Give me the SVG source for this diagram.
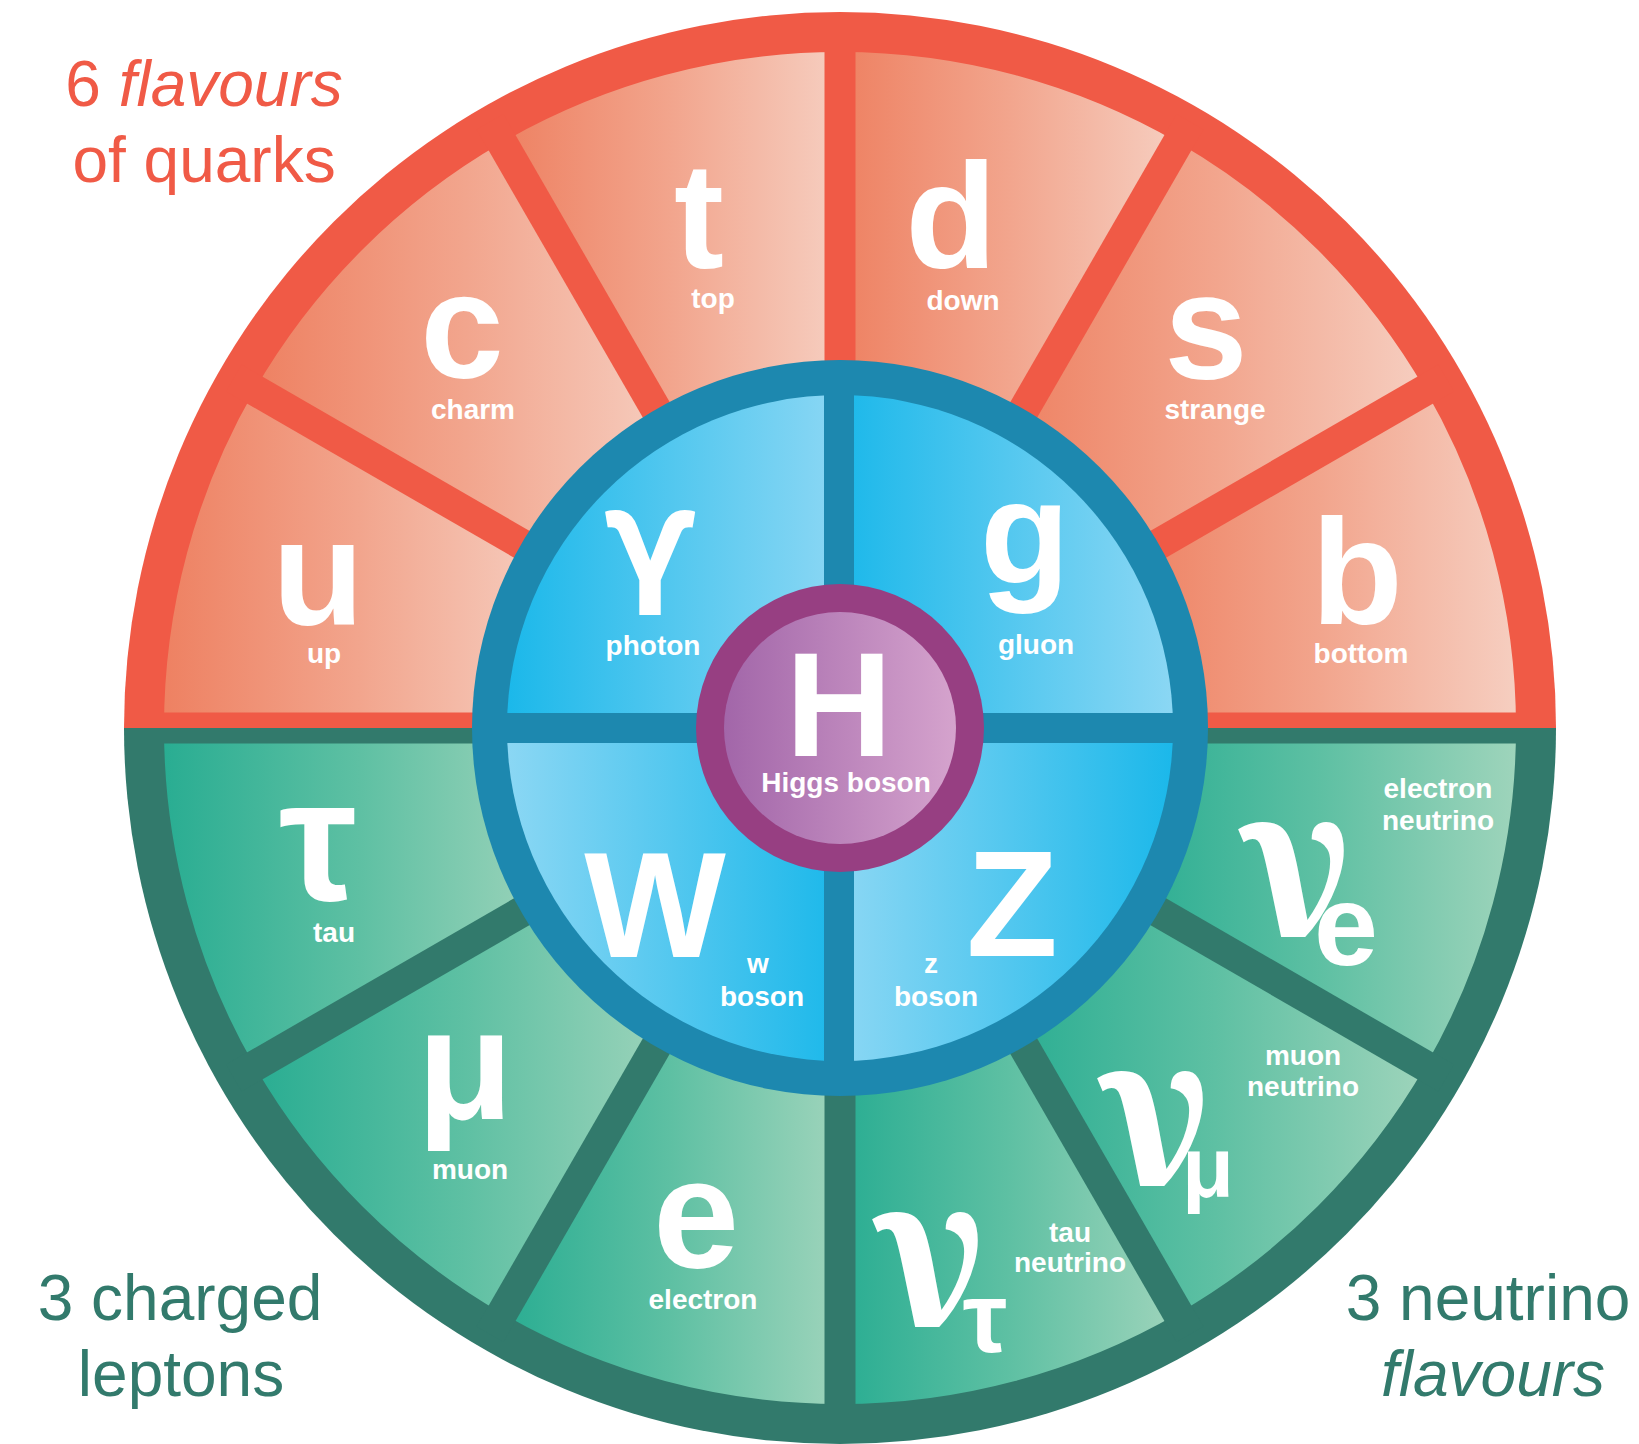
<svg xmlns="http://www.w3.org/2000/svg" width="1639" height="1444" viewBox="0 0 1639 1444">
<defs>
<linearGradient id="gRed" x1="0" y1="0" x2="1" y2="0">
<stop offset="0" stop-color="#EE8162"/><stop offset="0.5" stop-color="#F2A58D"/><stop offset="1" stop-color="#F6CEC0"/>
</linearGradient>
<linearGradient id="gGreen" x1="0" y1="0" x2="1" y2="0">
<stop offset="0" stop-color="#29AD92"/><stop offset="0.5" stop-color="#5EC0A3"/><stop offset="1" stop-color="#9ED4BB"/>
</linearGradient>
<linearGradient id="gBlueDL" x1="0" y1="0" x2="1" y2="0">
<stop offset="0" stop-color="#1BB8EA"/><stop offset="1" stop-color="#8BD7F4"/>
</linearGradient>
<linearGradient id="gBlueLD" x1="0" y1="0" x2="1" y2="0">
<stop offset="0" stop-color="#8BD7F4"/><stop offset="1" stop-color="#1BB8EA"/>
</linearGradient>
<linearGradient id="gPurple" x1="0" y1="0" x2="1" y2="0">
<stop offset="0" stop-color="#A266A9"/><stop offset="1" stop-color="#D5A3CD"/>
</linearGradient>
</defs>
<style>
.big{font-family:"Liberation Sans",Arial,sans-serif;font-weight:bold;fill:#fff;text-anchor:middle}
.lbl{font-family:"Liberation Sans",Arial,sans-serif;font-weight:bold;fill:#fff;text-anchor:middle;font-size:28px}
.nu{font-family:"Noto Serif","Liberation Serif",serif;font-weight:bold;fill:#fff;font-size:212px}
.gam{font-family:Roboto,"Liberation Sans",sans-serif;font-weight:bold;fill:#fff;text-anchor:middle}
.cap{font-family:"Liberation Sans",Arial,sans-serif;font-size:64px;text-anchor:middle}
.red{fill:#F05A46}
.grn{fill:#327A6C}
.rseg{fill:url(#gRed)}
.gseg{fill:url(#gGreen)}
.rdiv{stroke:#F05A46;stroke-width:31}
.gdiv{stroke:#327A6C;stroke-width:31}
.bdiv{stroke:#1D88AF;stroke-width:30}
</style>
<rect width="1639" height="1444" fill="#fff"/>

<g id="captions">
<text class="cap red" x="204" y="106">6 <tspan font-style="italic">flavours</tspan></text>
<text class="cap red" x="204" y="182">of quarks</text>
<text class="cap grn" x="180" y="1320">3 charged</text>
<text class="cap grn" x="181" y="1396">leptons</text>
<text class="cap grn" x="1488" y="1320">3 neutrino</text>
<text class="cap grn" x="1493" y="1396" font-style="italic">flavours</text>
</g>

<g id="background">
<path class="red" d="M124 728 A716 716 0 0 1 1556 728 Z"/>
<path class="grn" d="M124 728 A716 716 0 0 0 1556 728 Z"/>
</g>

<g id="quark-u"><path class="rseg" d="M254.6 390 A676 676 0 0 0 164 728 L510 728 A330 330 0 0 1 554.2 563 Z"/>
<text class="big" x="318" y="625" font-size="150">u</text><text class="lbl" x="324" y="663">up</text></g>
<g id="quark-c"><path class="rseg" d="M502 142.6 A676 676 0 0 0 254.6 390 L554.2 563 A330 330 0 0 1 675 442.2 Z"/>
<text class="big" x="462" y="378" font-size="150">c</text><text class="lbl" x="473" y="419">charm</text></g>
<g id="quark-t"><path class="rseg" d="M840 52 A676 676 0 0 0 502 142.6 L675 442.2 A330 330 0 0 1 840 398 Z"/>
<text class="big" x="699" y="268" font-size="150">t</text><text class="lbl" x="713" y="308">top</text></g>
<g id="quark-d"><path class="rseg" d="M1178 142.6 A676 676 0 0 0 840 52 L840 398 A330 330 0 0 1 1005 442.2 Z"/>
<text class="big" x="951" y="268" font-size="150">d</text><text class="lbl" x="963" y="310">down</text></g>
<g id="quark-s"><path class="rseg" d="M1425.4 390 A676 676 0 0 0 1178 142.6 L1005 442.2 A330 330 0 0 1 1125.8 563 Z"/>
<text class="big" x="1206" y="379" font-size="150">s</text><text class="lbl" x="1215" y="419">strange</text></g>
<g id="quark-b"><path class="rseg" d="M1516 728 A676 676 0 0 0 1425.4 390 L1125.8 563 A330 330 0 0 1 1170 728 Z"/>
<text class="big" x="1357" y="624" font-size="150">b</text><text class="lbl" x="1361" y="663">bottom</text></g>

<g id="lepton-tau"><path class="gseg" d="M164 728 A676 676 0 0 0 254.6 1066 L554.2 893 A330 330 0 0 1 510 728 Z"/>
<text class="big" x="318" y="900" font-size="175">τ</text><text class="lbl" x="334" y="942">tau</text></g>
<g id="lepton-muon"><path class="gseg" d="M254.6 1066 A676 676 0 0 0 502 1313.4 L675 1013.8 A330 330 0 0 1 554.2 893 Z"/>
<text class="big" x="465" y="1119" font-size="157">μ</text><text class="lbl" x="470" y="1179">muon</text></g>
<g id="lepton-electron"><path class="gseg" d="M502 1313.4 A676 676 0 0 0 840 1404 L840 1058 A330 330 0 0 1 675 1013.8 Z"/>
<text class="big" x="696" y="1267" font-size="155">e</text><text class="lbl" x="703" y="1309">electron</text></g>
<g id="neutrino-tau"><path class="gseg" d="M840 1404 A676 676 0 0 0 1178 1313.4 L1005 1013.8 A330 330 0 0 1 840 1058 Z"/>
<text class="nu" x="873" y="1327">ν</text><text class="big" x="985" y="1352" font-size="100">τ</text>
<text class="lbl" x="1070" y="1242">tau</text><text class="lbl" x="1070" y="1272">neutrino</text></g>
<g id="neutrino-muon"><path class="gseg" d="M1178 1313.4 A676 676 0 0 0 1425.4 1066 L1125.8 893 A330 330 0 0 1 1005 1013.8 Z"/>
<text class="nu" x="1098" y="1186">ν</text><text class="big" x="1208" y="1196" font-size="85">μ</text>
<text class="lbl" x="1303" y="1065">muon</text><text class="lbl" x="1303" y="1096">neutrino</text></g>
<g id="neutrino-electron"><path class="gseg" d="M1425.4 1066 A676 676 0 0 0 1516 728 L1170 728 A330 330 0 0 1 1125.8 893 Z"/>
<text class="nu" x="1239" y="937">ν</text><text class="big" x="1346" y="965" font-size="115">e</text>
<text class="lbl" x="1438" y="798">electron</text><text class="lbl" x="1438" y="830">neutrino</text></g>

<g id="dividers">
<rect x="150" y="712.5" width="1380" height="15.5" fill="#F05A46"/>
<rect x="150" y="728" width="1380" height="15.5" fill="#327A6C"/>
<line class="rdiv" x1="1099.8" y1="578" x2="1446.2" y2="378"/>
<line class="rdiv" x1="990" y1="468.2" x2="1190" y2="121.8"/>
<line class="rdiv" x1="840" y1="428" x2="840" y2="28"/>
<line class="rdiv" x1="690" y1="468.2" x2="490" y2="121.8"/>
<line class="rdiv" x1="580.2" y1="578" x2="233.8" y2="378"/>
<line class="gdiv" x1="580.2" y1="878" x2="233.8" y2="1078"/>
<line class="gdiv" x1="690" y1="987.8" x2="490" y2="1334.2"/>
<line class="gdiv" x1="840" y1="1028" x2="840" y2="1428"/>
<line class="gdiv" x1="990" y1="987.8" x2="1190" y2="1334.2"/>
<line class="gdiv" x1="1099.8" y1="878" x2="1446.2" y2="1078"/>
</g>

<g id="bosons">
<circle cx="840" cy="728" r="368" fill="#1D88AF"/>
<g id="boson-photon"><path fill="url(#gBlueDL)" d="M840 728 L507 728 A333 333 0 0 1 840 395 Z"/></g>
<g id="boson-gluon"><path fill="url(#gBlueDL)" d="M840 728 L840 395 A333 333 0 0 1 1173 728 Z"/></g>
<g id="boson-z"><path fill="url(#gBlueLD)" d="M840 728 L1173 728 A333 333 0 0 1 840 1061 Z"/></g>
<g id="boson-w"><path fill="url(#gBlueLD)" d="M840 728 L840 1061 A333 333 0 0 1 507 728 Z"/></g>
<line class="bdiv" x1="500" y1="728" x2="1180" y2="728"/>
<line class="bdiv" x1="839" y1="390" x2="839" y2="1066"/>
<text class="gam" x="650" y="615" font-size="145">ϒ</text><text class="lbl" x="653" y="655">photon</text>
<text class="big" x="1025" y="583" font-size="147">g</text><text class="lbl" x="1036" y="654">gluon</text>
<text class="big" x="655" y="957" font-size="150">W</text><text class="lbl" x="758" y="973">w</text><text class="lbl" x="762" y="1006">boson</text>
<text class="big" x="1012" y="956" font-size="150">Z</text><text class="lbl" x="931" y="973">z</text><text class="lbl" x="936" y="1006">boson</text>
</g>

<g id="higgs">
<circle cx="840" cy="728" r="144" fill="#973F82"/>
<circle cx="840" cy="728" r="116" fill="url(#gPurple)"/>
<text class="big" x="839" y="756" font-size="148">H</text>
<text class="lbl" x="846" y="792">Higgs boson</text>
</g>
</svg>
